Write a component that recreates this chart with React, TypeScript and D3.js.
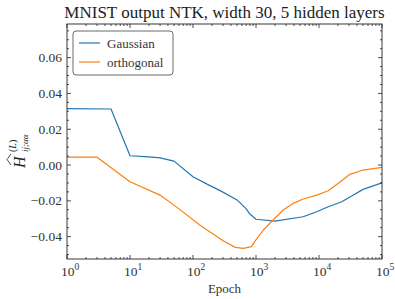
import React from 'react';
import * as d3 from 'd3';

const TITLE = 'MNIST output NTK, width 30, 5 hidden layers';
const SERIES_NAMES = ['Gaussian', 'orthogonal'];
const COLORS = ['#1f77b4', '#ff7f0e'];

// epochs and kernel values
const gaussEpoch = [1, 5, 10, 20, 30, 50, 100, 170, 270, 500, 700, 800, 1000, 2000, 5600, 9200, 14000, 23000, 33000, 50000, 100000];
const gaussValue = [0.0315, 0.0313, 0.0052, 0.0046, 0.0040, 0.0022, -0.0065, -0.0108, -0.0143, -0.0195, -0.0245, -0.0274, -0.0303, -0.0313, -0.0289, -0.0261, -0.0233, -0.0205, -0.0173, -0.0136, -0.0099];

const orthoEpoch = [1, 3, 10, 30, 60, 128, 300, 470, 630, 850, 950, 1310, 1870, 2700, 3900, 5600, 9200, 14000, 20300, 31000, 50000, 100000];
const orthoValue = [0.0044, 0.0044, -0.0093, -0.0168, -0.0245, -0.0335, -0.0423, -0.0460, -0.0466, -0.0456, -0.0428, -0.0363, -0.0307, -0.0251, -0.0214, -0.0190, -0.0168, -0.0144, -0.0102, -0.0052, -0.0028, -0.0013];

const yTicks = [-0.04, -0.02, 0.0, 0.02, 0.04, 0.06];
const xTicks = [1, 10, 100, 1000, 10000, 100000];

const W = 395;
const H = 299;
const M = { left: 67, right: 13, top: 24, bottom: 40 };
const FONT = '"Liberation Serif", "DejaVu Serif", serif';

export default function App() {
  const x = d3.scaleLog().domain([1, 1e5]).range([M.left, W - M.right]);
  const y = d3.scaleLinear().domain([-0.0525, 0.0788]).range([H - M.bottom, M.top]);

  const line = d3
    .line<[number, number]>()
    .x((d) => x(d[0]))
    .y((d) => y(d[1]));

  const gauss = gaussEpoch.map((e, i) => [e, gaussValue[i]] as [number, number]);
  const ortho = orthoEpoch.map((e, i) => [e, orthoValue[i]] as [number, number]);

  const x0 = M.left;
  const x1 = W - M.right;
  const y0 = M.top;
  const y1 = H - M.bottom;

  // minor ticks
  const xMinor: number[] = [];
  for (let p = 0; p < 5; p++) {
    for (let k = 2; k <= 9; k++) xMinor.push(k * Math.pow(10, p));
  }
  const yMinor: number[] = [];
  for (let v = -0.05; v <= 0.0751; v += 0.005) {
    const r = Math.round(v * 1000) / 1000;
    if (Math.abs(Math.round(r / 0.02) * 0.02 - r) > 1e-6) yMinor.push(r);
  }

  const fmt = (v: number) => {
    const s = Math.abs(v).toFixed(2);
    return v < -1e-9 ? '\u2212' + s : s;
  };

  return (
    <svg width={W} height={H} style={{ position: 'absolute', left: 0, top: 0, background: '#fff', fontFamily: FONT }}>
      <text x={(x0 + x1) / 2} y={18} textAnchor="middle" fontSize={17} fill="#222">
        {TITLE}
      </text>

      <clipPath id="clip">
        <rect x={x0} y={y0} width={x1 - x0} height={y1 - y0} />
      </clipPath>
      <g clipPath="url(#clip)" fill="none" strokeWidth={1.2} strokeLinejoin="round">
        <path d={line(gauss) || ''} stroke={COLORS[0]} />
        <path d={line(ortho) || ''} stroke={COLORS[1]} />
      </g>

      {/* frame */}
      <rect x={x0} y={y0} width={x1 - x0} height={y1 - y0} fill="none" stroke="#222" strokeWidth={0.9} />

      {/* ticks, inward on all four sides */}
      <g stroke="#222" strokeWidth={0.8}>
        {xTicks.map((t) => (
          <g key={'xt' + t}>
            <line x1={x(t)} x2={x(t)} y1={y1} y2={y1 - 4} />
            <line x1={x(t)} x2={x(t)} y1={y0} y2={y0 + 4} />
          </g>
        ))}
        {xMinor.map((t) => (
          <g key={'xm' + t}>
            <line x1={x(t)} x2={x(t)} y1={y1} y2={y1 - 2} />
            <line x1={x(t)} x2={x(t)} y1={y0} y2={y0 + 2} />
          </g>
        ))}
        {yTicks.map((t) => (
          <g key={'yt' + t}>
            <line x1={x0} x2={x0 + 4} y1={y(t)} y2={y(t)} />
            <line x1={x1} x2={x1 - 4} y1={y(t)} y2={y(t)} />
          </g>
        ))}
        {yMinor.map((t) => (
          <g key={'ym' + t}>
            <line x1={x0} x2={x0 + 2} y1={y(t)} y2={y(t)} />
            <line x1={x1} x2={x1 - 2} y1={y(t)} y2={y(t)} />
          </g>
        ))}
      </g>

      {/* tick labels */}
      <g fontSize={13.5} fill="#333">
        {yTicks.map((t) => (
          <text key={'yl' + t} x={x0 - 5} y={y(t) + 4.5} textAnchor="end">
            {fmt(t)}
          </text>
        ))}
        {xTicks.map((t) => (
          <text key={'xl' + t} x={x(t) + 3} y={y1 + 17} textAnchor="middle">
            10
            <tspan fontSize={9.5} dy={-6}>
              {Math.round(Math.log10(t))}
            </tspan>
          </text>
        ))}
      </g>

      <text x={(x0 + x1) / 2} y={293} textAnchor="middle" fontSize={13} fill="#333">
        Epoch
      </text>

      {/* y label: hat H, superscript (L), subscript ij;αα */}
      <g transform={`translate(25, 149) rotate(-90)`} fill="#222">
        <text x={-19} y={0} fontSize={16} fontStyle="italic">
          H
        </text>
        <text x={-3} y={-9} fontSize={10}>
          (<tspan fontStyle="italic">L</tspan>)
        </text>
        <text x={-3} y={3} fontSize={9} fontStyle="italic">
          ij;αα
        </text>
        <path d="M -16 -14 L -10.5 -18 L -5 -14" fill="none" stroke="#222" strokeWidth={0.8} />
      </g>

      {/* legend */}
      <rect x={73} y={31} width={100} height={44} rx={3} fill="#fff" stroke="#444" strokeWidth={0.8} />
      {SERIES_NAMES.map((name, i) => (
        <g key={name}>
          <line x1={79} x2={100} y1={43 + i * 19} y2={43 + i * 19} stroke={COLORS[i]} strokeWidth={1.2} />
          <text x={107} y={47.5 + i * 19} fontSize={13} fill="#333">
            {name}
          </text>
        </g>
      ))}
    </svg>
  );
}
